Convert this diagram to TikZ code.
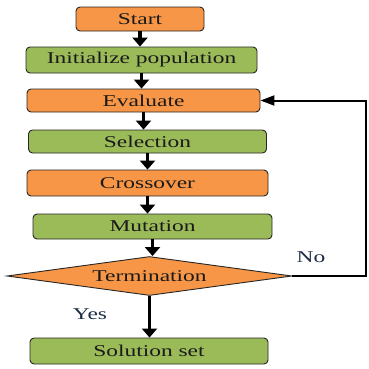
\documentclass[tikz,border=0pt]{standalone}
\usepackage{fontspec}
\setmainfont[FakeStretch=1.42]{Liberation Serif}
\usetikzlibrary{arrows.meta,shapes.geometric}
\definecolor{gaorange}{HTML}{F79646}
\definecolor{gagreen}{HTML}{9BBB59}
\definecolor{gatext}{HTML}{1A1A1A}
\definecolor{ganavy}{HTML}{1C2A44}
\begin{document}
\begin{tikzpicture}[
    x=1pt, y=1pt,
    font=\fontsize{16.5}{19}\selectfont,
    box/.style={draw=black!85, line width=0.9pt, rounded corners=4pt, align=center, text=gatext, inner sep=0pt},
    obox/.style={box, fill=gaorange},
    gbox/.style={box, fill=gagreen},
    decision/.style={diamond, draw=black!85, line width=0.9pt, fill=gaorange, text=gatext, aspect=7.3, inner sep=0pt},
    arrow/.style={-{Triangle[width=15pt,length=9pt]}, line width=3.8pt},
    loopline/.style={-{Triangle[width=10pt,length=14pt]}, line width=2pt},
    lbl/.style={text=ganavy}
  ]
    \useasboundingbox (0,0) rectangle (369,368);

    \node[obox, minimum width=128pt, minimum height=24pt] (start) at (140,349) {Start};
    \node[gbox, minimum width=231pt, minimum height=26pt] (init) at (141.5,308) {Initialize population};
    \node[obox, minimum width=233pt, minimum height=23pt] (eval) at (143.5,267.5) {Evaluate};
    \node[gbox, minimum width=238pt, minimum height=23pt] (sel) at (147.5,226.5) {Selection};
    \node[obox, minimum width=241pt, minimum height=26pt] (cross) at (147.5,185) {Crossover};
    \node[gbox, minimum width=239pt, minimum height=25pt] (mut) at (152.5,141.5) {Mutation};
    \node[decision, minimum width=285pt, minimum height=39pt] (term) at (149.5,92) {Termination};
    \node[gbox, minimum width=238pt, minimum height=26pt] (sol) at (149,17) {Solution set};

    \node[lbl] (yes) at (90,54) {Yes};
    \node[lbl] (no) at (311,111) {No};

    \draw[arrow] (start.south) -- (start.south |- init.north);
    \draw[arrow] (init.south) -- (init.south |- eval.north);
    \draw[arrow] (eval.south) -- (eval.south |- sel.north);
    \draw[arrow] (sel.south) -- (sel.south |- cross.north);
    \draw[arrow] (cross.south) -- (cross.south |- mut.north);
    \draw[arrow] (mut.south) -- (mut.south |- term.north);
    \draw[arrow] (term.south) -- (term.south |- sol.north);
    \draw[loopline] (term.east) -- ++(74,0) |- (eval.east);
  \end{tikzpicture}
\end{document}
